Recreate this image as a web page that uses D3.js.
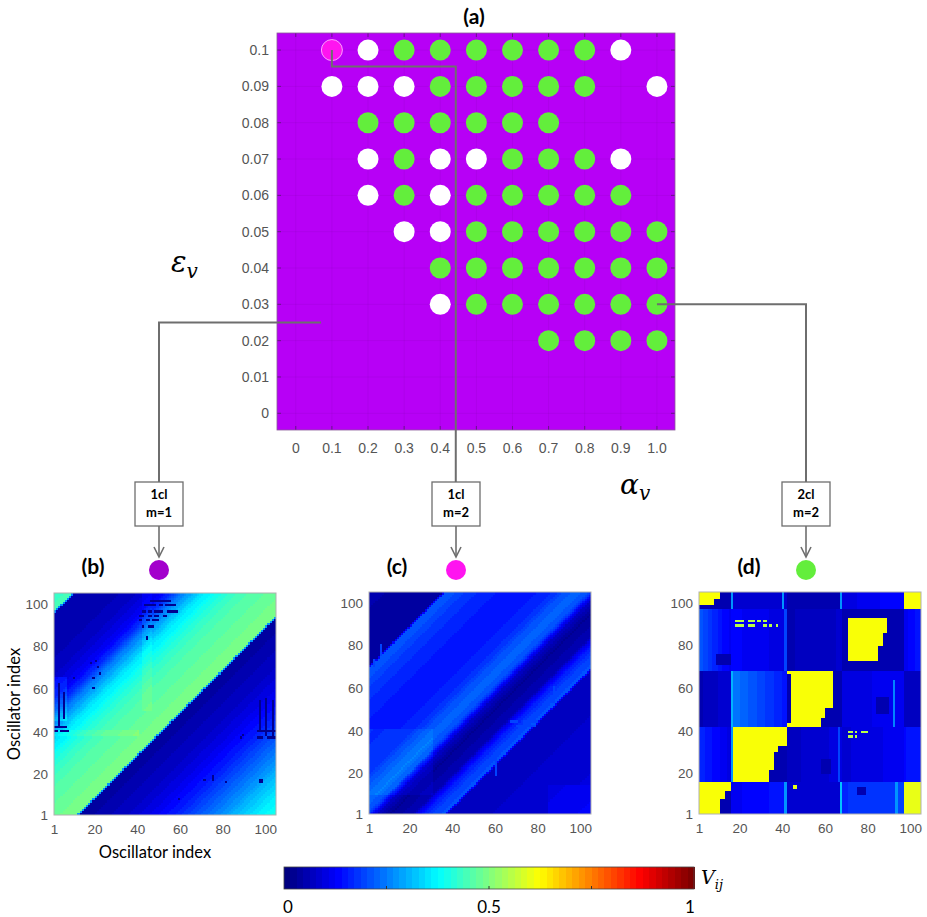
<!DOCTYPE html>
<html>
<head>
<meta charset="utf-8">
<script src="https://cdn.jsdelivr.net/npm/d3@7"></script>
<style>
body { margin: 0; background: #fff; }
svg { display: block; font-family: "Liberation Sans", Arial, sans-serif; }
</style>
</head>
<body>
<script>
// ---------- panel (a): parameter grid ----------
const alphaTicks = [0, 0.1, 0.2, 0.3, 0.4, 0.5, 0.6, 0.7, 0.8, 0.9, 1.0];
const epsTicks = [0, 0.01, 0.02, 0.03, 0.04, 0.05, 0.06, 0.07, 0.08, 0.09, 0.1];

// [eps, alphas...] per row
const greenRows = [
  [0.1, 0.3, 0.4, 0.5, 0.6, 0.7, 0.8],
  [0.09, 0.4, 0.5, 0.6, 0.7, 0.8],
  [0.08, 0.2, 0.3, 0.4, 0.5, 0.6, 0.7],
  [0.07, 0.3, 0.6, 0.7, 0.8],
  [0.06, 0.3, 0.5, 0.6, 0.7, 0.8, 0.9],
  [0.05, 0.5, 0.6, 0.7, 0.8, 0.9, 1.0],
  [0.04, 0.4, 0.5, 0.6, 0.7, 0.8, 0.9, 1.0],
  [0.03, 0.5, 0.6, 0.7, 0.8, 0.9, 1.0],
  [0.02, 0.7, 0.8, 0.9, 1.0]
];
const whiteRows = [
  [0.1, 0.2, 0.9],
  [0.09, 0.1, 0.2, 0.3, 1.0],
  [0.07, 0.2, 0.4, 0.5, 0.9],
  [0.06, 0.2, 0.4],
  [0.05, 0.3, 0.4],
  [0.03, 0.4]
];
const magentaRows = [[0.1, 0.1]];

// connectors: start point in (alpha, eps), corner eps / alpha
const linkB = {from: [0.07, 0.025]};
const linkC = {from: [0.1, 0.1], turnEps: 0.0955, downAlpha: 0.443};
const linkD = {from: [1.0, 0.03]};

const boxLabels = [["1cl", "m=1"], ["1cl", "m=2"], ["2cl", "m=2"]];
const panelTitles = ["(b)", "(c)", "(d)"];
const stateColors = ["#a300cc", "#ff14f0", "#63ee3c"];

// ---------- heatmaps ----------
const idxTicks = [1, 20, 40, 60, 80, 100];
const cbTicks = [0, 0.5, 1];
const cbInner = [0.25, 0.5, 0.75];

// (b) value profile along s = row - column
const bS = [-104, -95, -85, -75, -65, -55, -45, -35, -25, -15, -11.5, -10.5, -5, 5, 15, 25, 35, 45, 50, 55, 65, 75, 85, 94.5, 95.5, 104];
const bV = [0.40, 0.36, 0.31, 0.25, 0.20, 0.15, 0.11, 0.08, 0.06, 0.04, 0.04, 0.50, 0.49, 0.47, 0.45, 0.41, 0.35, 0.24, 0.17, 0.12, 0.08, 0.06, 0.05, 0.05, 0.45, 0.42];
const bMods = [[42, 46, 50, 104, 0.02], [1, 40, 38, 40, 0.02], [1, 6, 45, 65, 0.05]];
const bSpecks = [
  [46, 55, 101, 101], [43, 48, 99, 99], [50, 51, 99, 99], [53, 57, 99, 99], [42, 43, 96, 96], [45, 46, 96, 96], [48, 51, 96, 96], [54, 58, 96, 96],
  [41, 42, 94, 94], [45, 46, 94, 94], [48, 49, 94, 94], [52, 53, 94, 94], [41, 41, 92, 92], [44, 45, 92, 92], [47, 49, 92, 92], [42, 42, 89, 89], [45, 47, 89, 89], [44, 44, 83, 84],
  [3, 3, 42, 62], [5, 5, 46, 58], [1, 2, 40, 40], [4, 7, 40, 40], [1, 6, 42, 42],
  [97, 97, 41, 54], [100, 100, 38, 55], [103, 103, 38, 54], [96, 99, 40, 40], [101, 104, 40, 40], [96, 98, 37, 37], [101, 104, 37, 37],
  [18, 18, 72, 72], [20, 20, 73, 73], [21, 21, 70, 70], [22, 22, 67, 67], [10, 10, 65, 65], [19, 19, 65, 65],
  [19, 19, 60, 60], [89, 89, 38, 38], [88, 88, 37, 37], [71, 71, 17, 17], [75, 75, 17, 19], [81, 81, 16, 16],
  [97, 98, 16, 17], [59, 59, 8, 8]
];

// (c) value profile along s = row - column
const cS = [-104, -80, -60, -45, -36.5, -35.5, -30, -25, -20, -10, -4, 1, 6, 12, 20, 35, 50, 60, 68.5, 69.5, 80, 104];
const cV = [0.11, 0.09, 0.08, 0.07, 0.07, 0.21, 0.19, 0.15, 0.06, 0.03, 0.07, 0.20, 0.23, 0.21, 0.16, 0.15, 0.16, 0.19, 0.22, 0.04, 0.04, 0.05];
const cMods = [[1, 30, 10, 40, 0.02], [85, 104, 1, 14, 0.02]];
const cSpecks = [[60, 60, 19, 30], [87, 87, 53, 60], [6, 6, 75, 80], [3, 3, 70, 73], [67, 70, 44, 44], [73, 79, 44, 44], [70, 72, 42, 42], [75, 78, 42, 42]];

// (d) cluster blocks: edges, left/right value per block (rows bottom to top)
const dEdges = [1, 16, 42, 68, 97, 105];
const dLeft = [
  [0.62, 0.12, 0.09, 0.17, 0.60],
  [0.17, 0.62, 0.07, 0.09, 0.14],
  [0.06, 0.25, 0.62, 0.10, 0.07],
  [0.21, 0.13, 0.06, 0.62, 0.12],
  [0.62, 0.08, 0.06, 0.10, 0.62]
];
const dRight = [
  [0.62, 0.15, 0.08, 0.19, 0.60],
  [0.10, 0.62, 0.10, 0.12, 0.15],
  [0.09, 0.15, 0.62, 0.12, 0.07],
  [0.12, 0.10, 0.08, 0.62, 0.15],
  [0.62, 0.08, 0.06, 0.14, 0.62]
];
// overrides [x0, x1, y0, y1, value], applied in order
const dOver = [
  [16, 16, 42, 67, 0.30], [16, 16, 97, 104, 0.28], [41, 41, 1, 15, 0.28], [41, 41, 68, 96, 0.20],
  [40, 40, 97, 104, 0.28], [67, 67, 1, 15, 0.32], [67, 67, 97, 104, 0.28], [66, 66, 16, 41, 0.20],
  [93, 93, 1, 15, 0.28], [92, 92, 42, 63, 0.26],
  [16, 16, 16, 41, 0.28], [36, 41, 16, 29, 0.05], [34, 41, 16, 21, 0.05], [38, 41, 30, 32, 0.05],
  [42, 43, 44, 66, 0.05], [58, 67, 42, 45, 0.05], [60, 67, 46, 50, 0.05], [64, 67, 42, 67, 0.05],
  [68, 70, 68, 96, 0.05], [68, 96, 68, 72, 0.05], [68, 96, 93, 96, 0.05], [89, 96, 73, 92, 0.05],
  [85, 88, 73, 79, 0.05], [87, 88, 80, 85, 0.05],
  [11, 15, 1, 7, 0.05], [13, 15, 8, 11, 0.05],
  [1, 15, 97, 98, 0.05], [11, 15, 97, 104, 0.05], [8, 10, 97, 101, 0.05],
  [9, 15, 71, 75, 0.05], [84, 89, 48, 55, 0.05], [58, 62, 20, 26, 0.05], [75, 78, 10, 13, 0.05],
  [18, 21, 91, 91, 0.55], [24, 26, 91, 91, 0.55], [28, 29, 91, 91, 0.55], [31, 32, 91, 91, 0.55],
  [18, 21, 89, 89, 0.55], [24, 26, 89, 89, 0.55], [31, 32, 89, 89, 0.55], [34, 34, 89, 89, 0.55], [37, 37, 89, 89, 0.55],
  [71, 72, 39, 39, 0.55], [74, 74, 39, 39, 0.55], [77, 79, 39, 39, 0.55], [71, 72, 37, 37, 0.55], [74, 74, 37, 37, 0.55],
  [45, 46, 13, 14, 0.6]
];

// ---------- helpers ----------
const W = 927, H = 917;
const svg = d3.select("body").append("svg").attr("width", W).attr("height", H);

const jet = t => {
  t = Math.max(0, Math.min(1, t));
  const q = Math.min(63, Math.floor(t * 64)) / 63;
  const c = k => Math.round(255 * Math.max(0, Math.min(1, 1.5 - Math.abs(4 * q - k))));
  return `rgb(${c(3)},${c(2)},${c(1)})`;
};
const inRect = (i, j, r) => i >= r[0] && i <= r[1] && j >= r[2] && j <= r[3];

// ---------- panel (a) ----------
const xA = d3.scaleLinear().domain([-0.052, 1.05]).range([277, 675]);
const yA = d3.scaleLinear().domain([-0.0046, 0.1047]).range([430, 33]);

const gA = svg.append("g");
gA.append("rect").attr("x", 277).attr("y", 33).attr("width", 398).attr("height", 397).attr("fill", "#b700f6");
gA.selectAll("line.gx").data(alphaTicks).join("line")
  .attr("x1", d => xA(d)).attr("x2", d => xA(d)).attr("y1", 33).attr("y2", 430)
  .attr("stroke", "#000").attr("stroke-opacity", 0.05);
gA.selectAll("line.gy").data(epsTicks).join("line")
  .attr("y1", d => yA(d)).attr("y2", d => yA(d)).attr("x1", 277).attr("x2", 675)
  .attr("stroke", "#000").attr("stroke-opacity", 0.05);

const tickCol = "rgba(50,30,60,0.55)";
alphaTicks.forEach(a => {
  gA.append("line").attr("x1", xA(a)).attr("x2", xA(a)).attr("y1", 430).attr("y2", 426).attr("stroke", tickCol);
  gA.append("line").attr("x1", xA(a)).attr("x2", xA(a)).attr("y1", 33).attr("y2", 37).attr("stroke", tickCol);
});
epsTicks.forEach(e => {
  gA.append("line").attr("y1", yA(e)).attr("y2", yA(e)).attr("x1", 277).attr("x2", 281).attr("stroke", tickCol);
  gA.append("line").attr("y1", yA(e)).attr("y2", yA(e)).attr("x1", 675).attr("x2", 671).attr("stroke", tickCol);
});
gA.append("rect").attr("x", 277).attr("y", 33).attr("width", 398).attr("height", 397)
  .attr("fill", "none").attr("stroke", "#8a5a9a").attr("stroke-width", 0.8);

gA.selectAll("text.xt").data(alphaTicks).join("text")
  .attr("x", d => xA(d)).attr("y", 453).attr("text-anchor", "middle")
  .attr("font-size", 14).attr("fill", "#555").text(d => d === 0 ? "0" : d.toFixed(1));
gA.selectAll("text.yt").data(epsTicks).join("text")
  .attr("x", 269).attr("y", d => yA(d) + 5).attr("text-anchor", "end")
  .attr("font-size", 14).attr("fill", "#555").text(d => d === 0 ? "0" : String(+d.toFixed(2)));

const flat = rows => rows.flatMap(r => r.slice(1).map(a => [a, r[0]]));
gA.selectAll("circle.w").data(flat(whiteRows)).join("circle")
  .attr("cx", d => xA(d[0])).attr("cy", d => yA(d[1])).attr("r", 10.5).attr("fill", "#fff");
gA.selectAll("circle.g").data(flat(greenRows)).join("circle")
  .attr("cx", d => xA(d[0])).attr("cy", d => yA(d[1])).attr("r", 10.5).attr("fill", "#63ee3c");
gA.selectAll("circle.m").data(flat(magentaRows)).join("circle")
  .attr("cx", d => xA(d[0])).attr("cy", d => yA(d[1])).attr("r", 10.5)
  .attr("fill", "#ff14f0").attr("stroke", "#ffa0ff").attr("stroke-width", 1);

svg.append("text").attr("x", 474).attr("y", 24).attr("text-anchor", "middle")
  .attr("font-family", "Lato, 'Open Sans', sans-serif").attr("font-weight", "bold").attr("font-size", 21).text("(a)");

const mathFont = "'DejaVu Serif', 'Liberation Serif', serif";
const epsLab = svg.append("text").attr("x", 171).attr("y", 272).attr("font-family", mathFont)
  .attr("font-style", "italic").attr("font-size", 29);
epsLab.append("tspan").text("ε");
epsLab.append("tspan").attr("dy", 6).attr("font-size", 20).text("v");
const alLab = svg.append("text").attr("x", 620).attr("y", 494).attr("font-family", mathFont)
  .attr("font-style", "italic").attr("font-size", 28);
alLab.append("tspan").text("α");
alLab.append("tspan").attr("dy", 6).attr("font-size", 20).text("v");

// ---------- heatmap panels ----------
const panels = [
  {left: 54, top: 593, size: 222},
  {left: 369, top: 592, size: 222},
  {left: 699, top: 592, size: 222}
];
const boxCx = [159, 456, 806];

const profileB = d3.scaleLinear().domain(bS).range(bV).clamp(true);
const profileC = d3.scaleLinear().domain(cS).range(cV).clamp(true);
const blockOf = v => Math.max(0, d3.bisectRight(dEdges, v) - 1);

function valueB(i, j) {
  let v = profileB(j - i);
  bMods.forEach(r => { if (inRect(i, j, r)) v += r[4]; });
  bSpecks.forEach(r => { if (inRect(i, j, r)) v = 0.03; });
  return v;
}
function valueC(i, j) {
  let v = profileC(j - i);
  cMods.forEach(r => { if (inRect(i, j, r)) v += r[4]; });
  cSpecks.forEach(r => { if (inRect(i, j, r)) v = 0.2; });
  return v;
}
function valueD(i, j) {
  const bx = Math.min(4, blockOf(i)), by = Math.min(4, blockOf(j));
  const s = d3.scaleLinear().domain([dEdges[bx], dEdges[bx + 1] - 1]).range([dLeft[by][bx], dRight[by][bx]]);
  let v = s(i);
  dOver.forEach(r => { if (inRect(i, j, r)) v = r[4]; });
  return v;
}
const valueFns = [valueB, valueC, valueD];
const cellIdx = d3.range(1, 105);

panels.forEach((p, k) => {
  const x = d3.scaleLinear().domain([1, 105]).range([p.left, p.left + p.size]);
  const y = d3.scaleLinear().domain([1, 105]).range([p.top + p.size, p.top]);
  const cells = cellIdx.flatMap(j => cellIdx.map(i => ({i, j, v: valueFns[k](i, j)})));
  const g = svg.append("g");
  g.append("g").attr("shape-rendering", "crispEdges").selectAll("rect").data(cells).join("rect")
    .attr("x", d => x(d.i)).attr("y", d => y(d.j + 1))
    .attr("width", x(2) - x(1) + 0.4).attr("height", y(1) - y(2) + 0.4)
    .attr("fill", d => jet(d.v));
  g.append("rect").attr("x", p.left).attr("y", p.top).attr("width", p.size).attr("height", p.size)
    .attr("fill", "none").attr("stroke", "#b0b0b0").attr("stroke-width", 1);

  const xAx = g.append("g").attr("transform", `translate(0,${p.top + p.size})`)
    .call(d3.axisBottom(x).tickValues(idxTicks).tickSize(0).tickPadding(9));
  const yAx = g.append("g").attr("transform", `translate(${p.left},0)`)
    .call(d3.axisLeft(y).tickValues(idxTicks).tickSize(0).tickPadding(6));
  [xAx, yAx].forEach(ax => {
    ax.select(".domain").remove();
    ax.selectAll("text").attr("font-size", 13.5).attr("fill", "#555").attr("font-family", "'Liberation Sans', Arial, sans-serif");
  });

  svg.append("text").attr("x", [93, 397, 749][k]).attr("y", 574).attr("text-anchor", "middle")
    .attr("font-family", "Lato, 'Open Sans', sans-serif").attr("font-weight", "bold").attr("font-size", 21)
    .text(panelTitles[k]);

  // box, arrow and state dot
  const cx = boxCx[k];
  svg.append("rect").attr("x", cx - 24).attr("y", 482).attr("width", 48).attr("height", 44)
    .attr("fill", "#fff").attr("stroke", "#6e6e6e").attr("stroke-width", 1.3);
  boxLabels[k].forEach((t, n) => svg.append("text").attr("x", cx).attr("y", 499 + n * 18)
    .attr("text-anchor", "middle").attr("font-family", "Lato, 'Open Sans', sans-serif")
    .attr("font-weight", "bold").attr("font-size", 13).text(t));
  svg.append("line").attr("x1", cx).attr("x2", cx).attr("y1", 526).attr("y2", 556)
    .attr("stroke", "#6e6e6e").attr("stroke-width", 1.6);
  svg.append("path").attr("d", `M${cx - 5},${547} L${cx},${557} L${cx + 5},${547}`)
    .attr("fill", "none").attr("stroke", "#6e6e6e").attr("stroke-width", 1.6);
  svg.append("circle").attr("cx", cx).attr("cy", 570).attr("r", 10).attr("fill", stateColors[k]);
});

// axis titles for (b)
svg.append("text").attr("transform", "translate(20,704) rotate(-90)").attr("text-anchor", "middle")
  .attr("font-family", "Lato, 'Open Sans', sans-serif").attr("font-size", 16.5).text("Oscillator index");
svg.append("text").attr("x", 155).attr("y", 858).attr("text-anchor", "middle")
  .attr("font-family", "Lato, 'Open Sans', sans-serif").attr("font-size", 16.5).text("Oscillator index");

// ---------- connectors ----------
const linkStyle = sel => sel.attr("fill", "none").attr("stroke", "#6e6e6e").attr("stroke-width", 2);
svg.append("path").call(linkStyle).attr("d", d3.line()([
  [xA(linkB.from[0]), yA(linkB.from[1])], [boxCx[0], yA(linkB.from[1])], [boxCx[0], 482]]));
svg.append("path").call(linkStyle).attr("d", d3.line()([
  [xA(linkC.from[0]), yA(linkC.from[1])], [xA(linkC.from[0]), yA(linkC.turnEps)],
  [xA(linkC.downAlpha), yA(linkC.turnEps)], [xA(linkC.downAlpha), 482]]));
svg.append("path").call(linkStyle).attr("d", d3.line()([
  [xA(linkD.from[0]), yA(linkD.from[1])], [boxCx[2], yA(linkD.from[1])], [boxCx[2], 482]]));

// ---------- colorbar ----------
const cbX = d3.scaleLinear().domain([0, 1]).range([284, 694]);
const cbSteps = d3.range(64).map(n => n / 64);
svg.append("g").attr("shape-rendering", "crispEdges").selectAll("rect").data(cbSteps).join("rect")
  .attr("x", d => cbX(d)).attr("y", 867).attr("width", cbX(1 / 64) - cbX(0) + 0.5).attr("height", 22)
  .attr("fill", d => jet(d + 0.5 / 64));
svg.append("rect").attr("x", 284).attr("y", 867).attr("width", 410).attr("height", 22)
  .attr("fill", "none").attr("stroke", "#444").attr("stroke-width", 0.8);
svg.selectAll("line.cbt").data(cbInner).join("line")
  .attr("x1", d => cbX(d)).attr("x2", d => cbX(d)).attr("y1", 889).attr("y2", 886)
  .attr("stroke", "#333");
svg.selectAll("text.cbl").data(cbTicks).join("text")
  .attr("x", d => cbX(d) + (d === 0 ? 4 : d === 1 ? -4 : 0)).attr("y", 913).attr("text-anchor", "middle")
  .attr("font-family", "Lato, 'Open Sans', sans-serif").attr("font-size", 17).text(d => String(d));
const vLab = svg.append("text").attr("x", 701).attr("y", 884).attr("font-family", mathFont)
  .attr("font-style", "italic").attr("font-size", 19);
vLab.append("tspan").text("V");
vLab.append("tspan").attr("dy", 5).attr("font-size", 13).text("ij");
</script>
</body>
</html>
